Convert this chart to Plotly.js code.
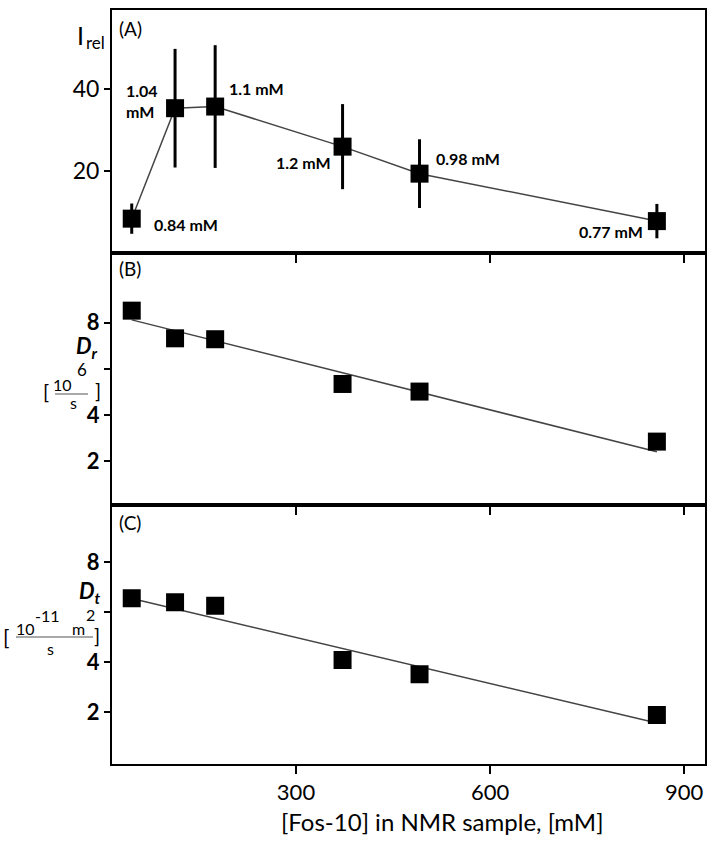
<!DOCTYPE html>
<html lang="en">

<head>
    <meta charset="UTF-8">
    <title>Fos-10 NMR</title>
    <script src="https://cdn.plot.ly/plotly-3.0.1.min.js"></script>
    <style>
        body {
            margin: 0;
            padding: 0;
            background: white;
        }

        #plot {
            width: 717px;
            height: 843px;
        }
    </style>
</head>

<body>
    <div id="plot"></div>

    <script>
        // values
        const conc = [46, 113, 175, 372, 491, 858];
        const intensity = [8.4, 35.4, 35.8, 26.0, 19.4, 7.8];
        const intensityErr = [3.7, 14.5, 15.0, 10.4, 8.4, 4.2];
        const sampleLabels = ['0.84 mM', '1.04<br>mM', '1.1 mM', '1.2 mM', '0.98 mM', '0.77 mM'];
        const rotDiff = [8.52, 7.32, 7.28, 5.34, 5.01, 2.84];
        const transDiff = [6.56, 6.40, 6.26, 4.09, 3.52, 1.89];
        const fitConc = [46, 858];
        const rotFit = [8.12, 2.40];
        const transFit = [6.55, 1.57];
        const xTicks = [300, 600, 900];

        // label offsets in pixels: [xanchor, xshift, yshift]
        const labelPos = [
            ['left', 20, -6],
            ['right', -15, 7],
            ['left', 12, 18],
            ['right', -10, -16],
            ['left', 14, 15],
            ['right', -12, -10]
        ];

        const FONT = 'Lato, "Open Sans", sans-serif';
        const L = 112, R = 705, T = 10, B = 764;
        const px = x => (x - L) / (R - L);
        const py = y => (B - y) / (B - T);

        function textAt(text, x, y, size, xanchor, extra) {
            return Object.assign({
                text: text,
                xref: 'paper', yref: 'paper',
                x: px(x), y: py(y),
                xanchor: xanchor || 'center', yanchor: 'middle',
                showarrow: false,
                font: {family: FONT, size: size, color: 'black'}
            }, extra || {});
        }

        function createChart() {
            const traces = [
                {
                    x: conc, y: intensity,
                    xaxis: 'x3', yaxis: 'y3',
                    type: 'scatter', mode: 'lines+markers',
                    line: {color: '#444', width: 1.5},
                    marker: {symbol: 'square', size: 18, color: 'black'},
                    error_y: {type: 'data', array: intensityErr, visible: true, color: 'black', thickness: 3, width: 0}
                },
                {
                    x: fitConc, y: rotFit,
                    xaxis: 'x2', yaxis: 'y2',
                    type: 'scatter', mode: 'lines',
                    line: {color: '#444', width: 1.5}
                },
                {
                    x: conc, y: rotDiff,
                    xaxis: 'x2', yaxis: 'y2',
                    type: 'scatter', mode: 'markers',
                    marker: {symbol: 'square', size: 18, color: 'black'}
                },
                {
                    x: fitConc, y: transFit,
                    xaxis: 'x', yaxis: 'y',
                    type: 'scatter', mode: 'lines',
                    line: {color: '#444', width: 1.5}
                },
                {
                    x: conc, y: transDiff,
                    xaxis: 'x', yaxis: 'y',
                    type: 'scatter', mode: 'markers',
                    marker: {symbol: 'square', size: 18, color: 'black'}
                }
            ];

            const frame = {
                showline: true, mirror: true, linecolor: 'black', linewidth: 2,
                showgrid: false, zeroline: false,
                ticks: 'outside', ticklen: 8, tickwidth: 2, tickcolor: 'black'
            };

            const xBase = Object.assign({}, frame, {
                range: [15.5, 932.4],
                tickvals: xTicks
            });

            // the tick at 6 has no label: the unit text sits there
            const diffY = Object.assign({}, frame, {
                tickvals: [2, 4, 8],
                ticklen: 6,
                tickfont: {family: FONT, size: 22, weight: 'bold'},
                minor: {tickvals: [6], ticks: 'outside', ticklen: 6, tickwidth: 2, tickcolor: 'black', showgrid: false}
            });

            const annotations = sampleLabels.map((lab, i) => ({
                text: '<b>' + lab + '</b>',
                x: conc[i], y: intensity[i],
                xref: 'x3', yref: 'y3',
                xanchor: labelPos[i][0], yanchor: 'middle', align: 'left',
                xshift: labelPos[i][1], yshift: labelPos[i][2],
                showarrow: false,
                font: {family: FONT, size: 16, color: 'black'}
            }));

            annotations.push(
                textAt('(A)', 117, 29, 19, 'left'),
                textAt('(B)', 117, 268, 19, 'left'),
                textAt('(C)', 117, 522, 19, 'left'),
                // panel A title
                textAt('I', 80, 35, 25),
                textAt('rel', 84, 43, 17, 'left'),
                // panel B title
                textAt('<b><i>D<sub>r</sub></i></b>', 87, 347, 22),
                textAt('[', 46, 391, 20),
                textAt(']', 98, 390, 20),
                textAt('10', 62, 384, 16),
                textAt('6', 82, 369, 17),
                textAt('s', 73, 402, 16),
                // panel C title
                textAt('<b><i>D<sub>t</sub></i></b>', 90, 592, 22),
                textAt('[', 6, 636, 21),
                textAt(']', 97, 635, 20),
                textAt('10', 25, 628, 16),
                textAt('-11', 47, 615, 16),
                textAt('m', 78, 628, 16),
                textAt('2', 90, 614, 16),
                textAt('s', 50, 648, 16),
                // x axis title
                textAt('[Fos-10] in NMR sample, [mM]', 442, 821, 24)
            );

            const shapes = [
                {type: 'line', xref: 'paper', yref: 'paper', x0: px(55), x1: px(88), y0: py(394), y1: py(394), line: {color: '#555', width: 1.2}},
                {type: 'line', xref: 'paper', yref: 'paper', x0: px(16), x1: px(93), y0: py(637), y1: py(637), line: {color: '#555', width: 1.2}}
            ];

            const layout = {
                width: 717,
                height: 843,
                showlegend: false,
                margin: {l: L, r: 717 - R, t: T, b: 843 - B},
                paper_bgcolor: 'white',
                plot_bgcolor: 'white',
                font: {family: FONT, color: 'black'},
                xaxis: Object.assign({}, xBase, {
                    anchor: 'y',
                    tickfont: {family: FONT, size: 22}
                }),
                xaxis2: Object.assign({}, xBase, {anchor: 'y2', matches: 'x', showticklabels: false}),
                xaxis3: Object.assign({}, xBase, {anchor: 'y3', matches: 'x', showticklabels: false}),
                yaxis: Object.assign({}, diffY, {
                    domain: [0, 0.3435],
                    range: [-0.07, 10.29]
                }),
                yaxis2: Object.assign({}, diffY, {
                    domain: [0.3435, 0.6777],
                    range: [0.09, 11.02]
                }),
                yaxis3: Object.assign({}, frame, {
                    domain: [0.6777, 1],
                    range: [0, 59.4],
                    tickvals: [20, 40],
                    ticklen: 6,
                    tickfont: {family: FONT, size: 23}
                }),
                annotations: annotations,
                shapes: shapes
            };

            Plotly.newPlot('plot', traces, layout, {displayModeBar: false, responsive: false});
        }

        document.addEventListener('DOMContentLoaded', createChart);
    </script>
</body>

</html>
